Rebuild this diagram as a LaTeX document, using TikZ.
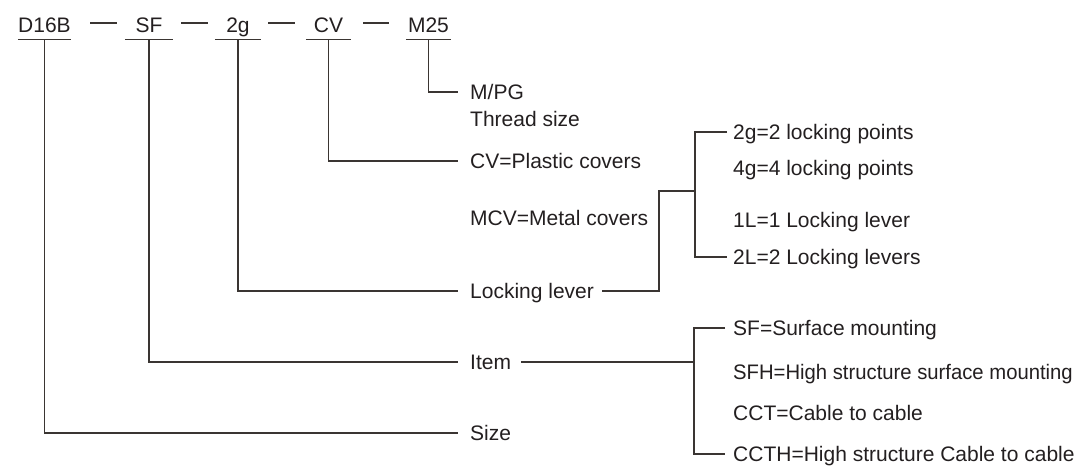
\documentclass[tikz,border=0pt]{standalone}
\usepackage{fontspec}
\setmainfont{Liberation Sans}
\usetikzlibrary{calc}
\definecolor{ink}{HTML}{231F20}
\definecolor{wire}{HTML}{3A3532}
\begin{document}
\begin{tikzpicture}[x=1pt,y=-1pt,
  every node/.style={font=\fontsize{21}{25}\selectfont, text=ink},
  code/.style={anchor=base, inner xsep=0pt, inner ysep=7.5pt, text depth=0pt, text height=15pt},
  lab/.style={anchor=base west, inner sep=0pt, text depth=0pt, text height=15pt},
  wire/.style={draw=wire, line width=1.4pt},
]
\useasboundingbox (0,0) rectangle (1087,467);

% code row
\node[code, minimum width=53pt] (d) at (44.5,32) {D16B};
\node[code, minimum width=48pt] (s) at (149,32) {SF};
\node[code, minimum width=46pt] (g) at (238,32) {2g};
\node[code, minimum width=45pt] (c) at (328.5,32) {CV};
\node[code, minimum width=45pt] (m) at (428.5,32) {M25};
\foreach \n in {d,s,g,c,m} \draw[wire] (\n.south west) -- (\n.south east);

% separators
\draw[wire] (90,23) -- (117,23);
\draw[wire] (181,23) -- (208,23);
\draw[wire] (268,23) -- (295,23);
\draw[wire] (363,23) -- (389,23);

% labels of the middle column
\node[lab] (mpg) at (470,99.5) {M/PG};
\node[lab] (thread) at (470,126.5) {Thread size};
\node[lab] (cvlab) at (470,168.5) {CV=Plastic covers};
\node[lab] (mcv) at (470,225.5) {MCV=Metal covers};
\node[lab] (lock) at (470,298.5) {Locking lever};
\node[lab] (item) at (470,369.5) {Item};
\node[lab] (size) at (470,440.5) {Size};

% right column (locking)
\node[lab] (g2) at (733,139.5) {2g=2 locking points};
\node[lab] (g4) at (733,175.5) {4g=4 locking points};
\node[lab] (l1) at (733,227.5) {1L=1 Locking lever};
\node[lab] (l2) at (733,264.5) {2L=2 Locking levers};

% right column (item)
\node[lab] (sf) at (733,335.5) {SF=Surface mounting};
\node[lab] (sfh) at (733,379.5) {\scalebox{0.965}[1]{SFH=High structure surface mounting}};
\node[lab] (cct) at (733,420.5) {CCT=Cable to cable};
\node[lab] (ccth) at (733,461.5) {CCTH=High structure Cable to cable};

% tree from code row
\draw[wire] (d.south) |- ([xshift=-12pt]size.west);
\draw[wire] (s.south) |- ([xshift=-12pt]item.west);
\draw[wire] (g.south) |- ([xshift=-12pt]lock.west);
\draw[wire] (c.south) |- ([xshift=-12pt]cvlab.west);
\draw[wire] (m.south) |- ([xshift=-12pt]mpg.west);

% locking lever branch
\coordinate (jl) at (659,191);
\coordinate (jr) at (695,191);
\draw[wire] ([xshift=8pt]lock.east) -| (jl) -- (jr);
\draw[wire] ([xshift=-6pt]g2.west) -| ([xshift=-38pt]l2.west) -- ([xshift=-6pt]l2.west);

% item branch
\coordinate (ib) at (694,362);
\draw[wire] ([xshift=10pt]item.east) -- (ib);
\draw[wire] ([xshift=-8pt]sf.west) -| ([xshift=-39pt]ccth.west) -- ([xshift=-8pt]ccth.west);
\end{tikzpicture}
\end{document}
